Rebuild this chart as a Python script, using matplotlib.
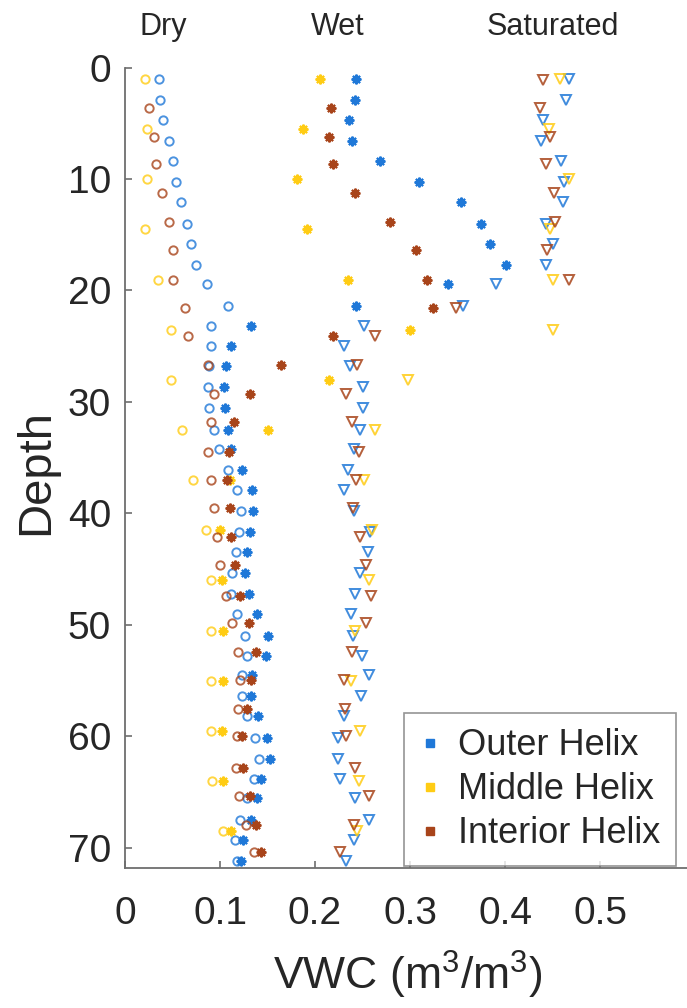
#!/usr/bin/env python3
# coding: utf-8

import numpy as np
from matplotlib import pyplot as plt
from matplotlib.lines import Line2D

plt.rcParams['font.family'] = ['Liberation Sans', 'DejaVu Sans']
plt.rcParams['mathtext.fontset'] = 'custom'
plt.rcParams['mathtext.rm'] = 'Liberation Sans'

nan = np.nan

# Outer helix
outer_depth = [1.0, 2.9, 4.7, 6.6, 8.4, 10.3, 12.1, 14.0, 15.8, 17.7, 19.4, 21.4, 23.2,
               25.0, 26.8, 28.7, 30.5, 32.5, 34.2, 36.1, 37.9, 39.8, 41.7, 43.5, 45.3,
               47.2, 49.0, 51.0, 52.8, 54.5, 56.4, 58.2, 60.1, 62.0, 63.8, 65.5, 67.5,
               69.3, 71.2]
outer_dry = [0.036, 0.037, 0.040, 0.046, 0.050, 0.054, 0.059, 0.065, 0.069, 0.075, 0.086,
             0.108, 0.091, 0.090, 0.088, 0.087, 0.088, 0.094, 0.099, 0.108, 0.118, 0.122,
             0.120, 0.117, 0.113, 0.112, 0.118, 0.126, 0.128, 0.123, 0.123, 0.128, 0.137,
             0.141, 0.136, 0.128, 0.121, 0.116, 0.118]
outer_wet = [0.243, 0.242, 0.236, 0.239, 0.268, 0.309, 0.354, 0.375, 0.384, 0.401, 0.340,
             0.243, 0.133, 0.112, 0.106, 0.104, 0.105, 0.108, 0.112, 0.123, 0.134, 0.135,
             0.132, 0.128, 0.126, 0.130, 0.139, 0.151, 0.148, 0.134, 0.133, 0.140, 0.149,
             0.153, 0.143, 0.139, 0.133, 0.124, 0.122]
outer_sat = [0.467, 0.464, 0.440, 0.438, 0.459, 0.462, 0.461, 0.443, 0.450, 0.443, 0.391,
             0.356, 0.252, 0.230, 0.237, 0.251, 0.251, 0.247, 0.241, 0.235, 0.231, 0.241,
             0.258, 0.256, 0.247, 0.242, 0.238, 0.240, 0.249, 0.257, 0.248, 0.230, 0.224,
             0.224, 0.226, 0.242, 0.257, 0.241, 0.233]

# Middle helix
middle_depth = [1.0, 5.5, 10.0, 14.5, 19.1, 23.5, 28.0, 32.5, 37.0, 41.5, 46.0, 50.5,
                55.0, 59.5, 64.0, 68.5]
middle_dry = [0.021, 0.023, 0.023, 0.021, 0.035, 0.048, 0.048, 0.060, 0.072, 0.085, 0.090,
              0.090, 0.090, 0.090, 0.092, 0.103]
middle_wet = [0.205, 0.187, 0.181, 0.192, 0.235, 0.300, 0.215, 0.151, 0.111, 0.100, 0.102,
              0.103, 0.103, 0.102, 0.103, 0.112]
middle_sat = [0.458, 0.446, 0.467, 0.447, 0.451, 0.450, 0.298, 0.263, 0.252, 0.260, 0.257,
              0.242, 0.238, 0.247, 0.246, 0.244]

# Interior helix
interior_depth = [1.1, 3.6, 6.2, 8.7, 11.3, 13.9, 16.4, 19.1, 21.6, 24.1, 26.7, 29.3,
                  31.8, 34.5, 37.0, 39.5, 42.1, 44.6, 47.4, 49.8, 52.4, 54.9, 57.5, 60.0,
                  62.8, 65.3, 67.9, 70.4]
interior_dry = [nan, 0.025, 0.030, 0.033, 0.039, 0.046, 0.050, 0.051, 0.063, 0.066, 0.087,
                0.094, 0.090, 0.087, 0.091, 0.094, 0.097, 0.100, 0.106, 0.113, 0.119, 0.121,
                0.119, 0.118, 0.117, 0.120, 0.127, 0.136]
interior_wet = [nan, 0.217, 0.215, 0.219, 0.242, 0.279, 0.306, 0.318, 0.324, 0.219, 0.164,
                0.132, 0.115, 0.109, 0.107, 0.111, 0.112, 0.116, 0.121, 0.130, 0.138, 0.133,
                0.128, 0.123, 0.124, 0.132, 0.138, 0.143]
interior_sat = [0.440, 0.437, 0.447, 0.443, 0.452, 0.453, 0.444, 0.467, 0.348, 0.263, 0.244,
                0.233, 0.239, 0.246, 0.243, 0.240, 0.247, 0.254, 0.259, 0.254, 0.239, 0.230,
                0.232, 0.233, 0.242, 0.257, 0.241, 0.226]

series = [
    ('Outer Helix', '#1f78d8', outer_depth, outer_dry, outer_wet, outer_sat),
    ('Middle Helix', '#ffcc14', middle_depth, middle_dry, middle_wet, middle_sat),
    ('Interior Helix', '#a8441a', interior_depth, interior_dry, interior_wet, interior_sat),
]

fig = plt.figure(figsize=(6.87, 10.08), dpi=100)
ax = fig.add_axes([125 / 687, 1 - 868 / 1008, 570 / 687, (868 - 67.5) / 1008])

asterisk = (8, 2, 0)
for name, col, depth, dry, wet, sat in series:
    ax.plot(dry, depth, 'o', ls='none', mfc='none', mec=col, ms=6, mew=1.4, alpha=0.8)
    ax.plot(wet, depth, marker=asterisk, ls='none', color=col, ms=7, mew=1.5)
    ax.plot(sat, depth, 'v', ls='none', mfc='none', mec=col, ms=7, mew=1.4, alpha=0.85)

ax.set_xlim(0, 0.6)
ax.set_ylim(71.8, 0)
ax.set_xticks([0, 0.1, 0.2, 0.3, 0.4, 0.5])
ax.set_xticklabels(['0', '0.1', '0.2', '0.3', '0.4', '0.5'])
ax.set_yticks(range(0, 71, 10))

axcol = '#6e6e6e'
for side in ['top', 'right']:
    ax.spines[side].set_visible(False)
for side in ['left', 'bottom']:
    ax.spines[side].set_color(axcol)
    ax.spines[side].set_linewidth(1.3)
ax.tick_params(axis='both', direction='in', length=5, width=1.2, color=axcol,
               labelsize=28, labelcolor='#262626')
ax.tick_params(axis='y', pad=10)
ax.tick_params(axis='x', pad=20)

ax.set_xlabel(r'VWC (m$^{3}$/m$^{3}$)', fontsize=32, color='#262626')
ax.set_ylabel('Depth', fontsize=34, color='#262626')
ax.xaxis.set_label_coords(283 / 570, -(975 - 868) / 800.5, transform=ax.transAxes)
ax.yaxis.set_label_coords(-(125 - 36) / 570, 0.495, transform=ax.transAxes)
ax.xaxis.label.set_va('center')
ax.yaxis.label.set_va('center')

for lab, xpos in [('Dry', 0.0405), ('Wet', 0.224), ('Saturated', 0.4505)]:
    ax.text(xpos, -2.9, lab, ha='center', va='baseline', fontsize=22, color='#262626')

handles = [Line2D([], [], ls='none', marker='s', ms=6, color=c, label=n)
           for n, c, *_ in series]
leg = ax.legend(handles=handles, loc='upper left',
                bbox_to_anchor=(404 / 687, 1 - 713 / 1008), bbox_transform=fig.transFigure,
                fontsize=26, frameon=True, fancybox=False, borderpad=0.42,
                handlelength=0.6, handletextpad=0.48, labelspacing=0.25,
                borderaxespad=0)
leg.get_frame().set_edgecolor('#7a7a7a')
leg.get_frame().set_linewidth(1.2)
for t in leg.get_texts():
    t.set_color('#262626')

plt.savefig('out.png', dpi=100)
